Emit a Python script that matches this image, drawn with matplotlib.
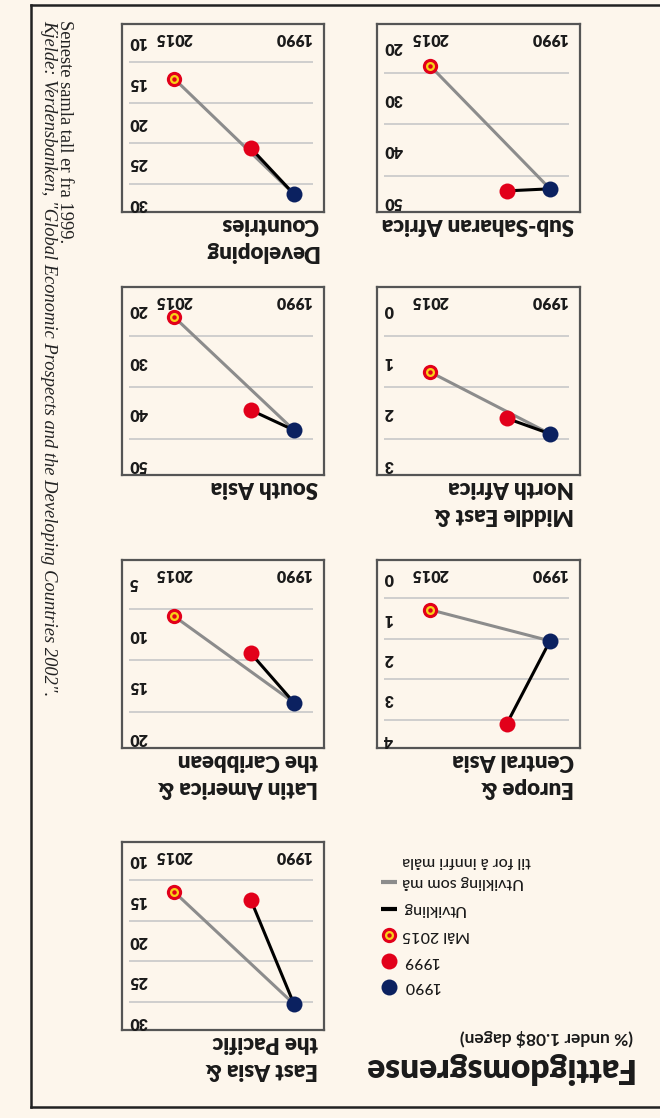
import matplotlib
matplotlib.use("Agg")
import matplotlib.pyplot as plt
from matplotlib.lines import Line2D

# ---------------- data ----------------
regions = ["East Asia &\nthe Pacific", "Europe &\nCentral Asia",
           "Latin America &\nthe Caribbean", "Middle East &\nNorth Africa",
           "South Asia", "Sub-Saharan Africa", "Developing\nCountries"]
val_1990 = [27.8, 1.55, 16.6, 2.4, 43.3, 47.5, 28.8]
val_1999 = [14.9, 3.6, 11.8, 2.1, 39.4, 47.9, 23.1]
goal_2015 = [13.9, 0.78, 8.2, 1.2, 21.3, 23.6, 14.5]
tick_sets = [[10, 15, 20, 25, 30], [0, 1, 2, 3, 4], [5, 10, 15, 20], [0, 1, 2, 3],
             [20, 30, 40, 50], [20, 30, 40, 50], [10, 15, 20, 25, 30]]
years = [1990, 1999, 2015]
year_labels = ["1990", "2015"]
legend_labels = ["1990", "1999", "Mål 2015", "Utvikling", "Utvikling som må", "til for å innfri måla"]
title = "Fattigdomsgrense"
subtitle = "(% under 1.08$ dagen)"
note = "Seneste samla tall er fra 1999."
source = 'Kjelde: Verdensbanken, "Global Economic Prospects and the Developing Countries 2002".'

# ---------------- style ----------------
BG = "#FDF6EC"
BLUE = "#0B2160"
RED = "#E2001A"
YELLOW = "#F7D117"
GRAY = "#8C8C8C"
GRID = "#C8C8C8"
BORDER = "#555555"
INK = "#1A1A1A"
SANS = ["Lato", "DejaVu Sans"]
SERIF = ["Liberation Serif", "DejaVu Serif"]

W, H, DPI = 660, 1118, 100
fig = plt.figure(figsize=(W / DPI, H / DPI), dpi=DPI)
fig.patch.set_facecolor(BG)


# The picture is rotated by 180 degrees: lay out in upright pixel coordinates
def fx(x):
    return 1 - x / W


def fy(y):
    return y / H


def utext(x, y, s, ha="left", va="baseline", rot=0, **kw):
    fig.text(fx(x), fy(y), s, ha=ha, va=va, rotation=rot + 180,
             rotation_mode="anchor", **kw)


def uline(xs, ys, **kw):
    fig.add_artist(Line2D([fx(v) for v in xs], [fy(v) for v in ys],
                          transform=fig.transFigure, **kw))


# outer frame
uline([0, 629], [11, 11], color="#222222", lw=1.8)
uline([0, 629], [1113, 1113], color="#222222", lw=1.8)
uline([629, 629], [11, 1113], color="#222222", lw=1.8)

# title block
utext(27, 60, title, fontsize=24, fontweight="heavy", color=INK, family=SANS)
utext(27, 86, subtitle, fontsize=12.5, fontweight="bold", color=INK, family=SANS)

# legend (markers on the right of the text)
LX, TX = 271, 258
leg_base = [136, 161, 187, 213, 240, 261]
for lab, yb in zip(legend_labels, leg_base):
    utext(TX, yb, lab, ha="right", fontsize=11.5, fontweight="medium",
          color=INK, family=SANS)
uline([LX], [131], marker="o", ms=11.5, color=BLUE, mec="none", ls="none")
uline([LX], [157], marker="o", ms=11.5, color=RED, mec="none", ls="none")
uline([LX], [183], marker="o", ms=11, color=RED, mec="none", ls="none")
uline([LX], [183], marker="o", ms=6.5, color=YELLOW, mec="none", ls="none")
uline([LX], [183], marker="o", ms=3.2, color=RED, mec="none", ls="none")
uline([263, 279], [209, 209], color="black", lw=3, solid_capstyle="butt")
uline([263, 279], [236, 236], color=GRAY, lw=3, solid_capstyle="butt")

# footnotes (vertical)
fig.text(fx(600), fy(1098), note, ha="left", va="baseline", rotation=270,
         rotation_mode="anchor", fontsize=13.3, color="#222222", family=SERIF)
fig.text(fx(616), fy(1098), source, ha="left", va="baseline", rotation=270,
         rotation_mode="anchor", fontsize=13.3, color="#222222", family=SERIF,
         style="italic")

# panels
col_x = {"L": (80, 283), "R": (336, 538)}
row_y = [(88, 276), (370, 558), (643, 831), (906, 1094)]
slots = [("R", 0), ("L", 1), ("R", 1), ("L", 2), ("R", 2), ("L", 3), ("R", 3)]
XMIN = 1990 - 30 / 4.8

for i, name in enumerate(regions):
    c, r = slots[i]
    x0, x1 = col_x[c]
    y0, y1 = row_y[r]
    ax = fig.add_axes([fx(x1), fy(y0), (x1 - x0) / W, (y1 - y0) / H])
    ax.set_facecolor(BG)
    ticks = tick_sets[i]
    step = ticks[1] - ticks[0]
    lo, hi = ticks[0] - 0.45 * step, ticks[-1] + 0.2 * step
    ax.set_ylim(hi, lo)
    ax.set_xlim(XMIN + (x1 - x0) / 4.8, XMIN)
    ax.set_xticks([])
    ax.set_yticks([])
    for s in ax.spines.values():
        s.set_color(BORDER)
        s.set_linewidth(1.6)

    grid_vals = [(a + b) / 2 for a, b in zip(ticks[:-1], ticks[1:])]
    ax.hlines(grid_vals, 0.035, 0.946, transform=ax.get_yaxis_transform(),
              color=GRID, lw=1.2, zorder=1)
    for t in ticks:
        ax.text(0.035, t, str(t), transform=ax.get_yaxis_transform(), ha="right",
                va="center", rotation=180, rotation_mode="anchor", fontsize=11.5,
                fontweight="heavy", color=INK, family=SANS)
    for yl in year_labels:
        ax.text(int(yl), 0.926, yl, transform=ax.get_xaxis_transform(), ha="center",
                va="center", rotation=180, rotation_mode="anchor", fontsize=11.5,
                fontweight="heavy", color=INK, family=SANS)

    ax.plot([years[0], years[2]], [val_1990[i], goal_2015[i]], color=GRAY, lw=2.2,
            zorder=3, solid_capstyle="round")
    ax.plot([years[0], years[1]], [val_1990[i], val_1999[i]], color="black", lw=2.2,
            zorder=4, solid_capstyle="round")
    ax.plot([years[0]], [val_1990[i]], "o", ms=11.5, color=BLUE, mec="none", zorder=5)
    ax.plot([years[1]], [val_1999[i]], "o", ms=11.5, color=RED, mec="none", zorder=5)
    ax.plot([years[2]], [goal_2015[i]], "o", ms=11, color=RED, mec="none", zorder=5)
    ax.plot([years[2]], [goal_2015[i]], "o", ms=6.5, color=YELLOW, mec="none", zorder=6)
    ax.plot([years[2]], [goal_2015[i]], "o", ms=3.2, color=RED, mec="none", zorder=7)

    lines = name.split("\n")
    for k, ln in enumerate(reversed(lines)):
        utext(x0 + 6, y0 - 6 - 27 * k, ln, fontsize=16, fontweight="heavy",
              color=INK, family=SANS)

fig.savefig("out.png", dpi=DPI, facecolor=BG)
